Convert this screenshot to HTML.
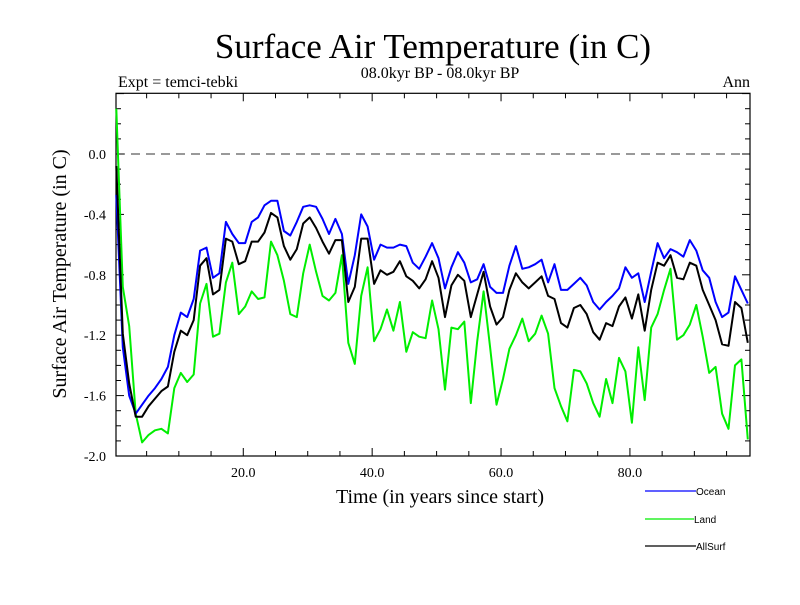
<!DOCTYPE html>
<html><head><meta charset="utf-8"><style>
body{margin:0;background:#fff}
svg text{font-family:"Liberation Serif",serif}
</style></head><body>
<svg id="chart" width="800" height="600" xmlns="http://www.w3.org/2000/svg">
<rect width="800" height="600" fill="#fff"/>
<text x="433" y="58" font-size="35" text-anchor="middle">Surface Air Temperature (in C)</text>
<text x="118" y="87" font-size="16">Expt = temci-tebki</text>
<text x="440" y="78" font-size="16" text-anchor="middle">08.0kyr BP - 08.0kyr BP</text>
<text x="750" y="87" font-size="16" text-anchor="end">Ann</text>
<text x="440" y="503" font-size="20" text-anchor="middle">Time (in years since start)</text>
<text transform="translate(66,274) rotate(-90)" font-size="20" text-anchor="middle">Surface Air Temperature (in C)</text>
<g id="axes"></g>
<g id="series"></g>
<g>
<line x1="645" y1="491" x2="696" y2="491" stroke="#0000ff" stroke-width="1.3"/>
<text x="696" y="495" font-size="10" style="font-family:'Liberation Sans',sans-serif">Ocean</text>
<line x1="645" y1="519" x2="694" y2="519" stroke="#00ee00" stroke-width="1.3"/>
<text x="694" y="523" font-size="10" style="font-family:'Liberation Sans',sans-serif">Land</text>
<line x1="645" y1="546" x2="696" y2="546" stroke="#000" stroke-width="1.3"/>
<text x="696" y="550" font-size="10" style="font-family:'Liberation Sans',sans-serif">AllSurf</text>
</g>
</svg>
<script>
const ocean=[-0.27,-1.28,-1.60,-1.72,-1.66,-1.60,-1.55,-1.49,-1.41,-1.20,-1.05,-1.08,-0.96,-0.64,-0.62,-0.82,-0.79,-0.45,-0.53,-0.59,-0.59,-0.45,-0.42,-0.34,-0.31,-0.31,-0.51,-0.54,-0.45,-0.35,-0.34,-0.35,-0.43,-0.53,-0.43,-0.53,-0.86,-0.67,-0.40,-0.48,-0.70,-0.60,-0.62,-0.62,-0.60,-0.61,-0.72,-0.76,-0.68,
-0.59,-0.69,-0.89,-0.75,-0.65,-0.72,-0.85,-0.83,-0.73,-0.88,-0.92,-0.92,-0.74,-0.61,-0.76,-0.75,-0.73,-0.70,-0.85,-0.73,-0.90,-0.90,-0.86,-0.82,-0.87,-0.98,-1.03,-0.98,-0.94,-0.89,-0.75,-0.82,-0.79,-0.98,-0.78,-0.59,-0.69,-0.63,-0.65,-0.68,-0.57,-0.64,-0.77,-0.82,-0.98,-1.08,-1.05,-0.81,-0.90,-0.99];
const allsurf=[-0.08,-1.19,-1.52,-1.74,-1.74,-1.67,-1.62,-1.57,-1.54,-1.31,-1.17,-1.20,-1.10,-0.74,-0.69,-0.93,-0.90,-0.56,-0.58,-0.73,-0.71,-0.58,-0.58,-0.52,-0.39,-0.42,-0.61,-0.70,-0.63,-0.46,-0.42,-0.49,-0.58,-0.66,-0.57,-0.57,-0.98,-0.88,-0.56,-0.56,-0.86,-0.77,-0.80,-0.78,-0.71,-0.81,-0.84,-0.89,-0.83,
-0.71,-0.82,-1.08,-0.87,-0.80,-0.84,-1.08,-0.93,-0.78,-1.01,-1.13,-1.08,-0.90,-0.79,-0.85,-0.89,-0.85,-0.81,-0.94,-0.96,-1.12,-1.15,-1.02,-1.00,-1.06,-1.18,-1.23,-1.12,-1.14,-1.01,-0.95,-1.09,-0.93,-1.17,-0.90,-0.72,-0.74,-0.67,-0.82,-0.83,-0.72,-0.74,-0.90,-1.00,-1.10,-1.26,-1.27,-0.98,-1.02,-1.25];
const land=[0.30,-0.88,-1.14,-1.72,-1.91,-1.86,-1.83,-1.82,-1.85,-1.55,-1.45,-1.51,-1.46,-0.99,-0.86,-1.21,-1.19,-0.85,-0.72,-1.06,-1.01,-0.91,-0.96,-0.95,-0.58,-0.67,-0.84,-1.06,-1.08,-0.79,-0.60,-0.78,-0.94,-0.97,-0.92,-0.67,-1.25,-1.39,-0.94,-0.75,-1.24,-1.16,-1.03,-1.17,-0.98,-1.31,-1.18,-1.21,-1.22,
-0.97,-1.16,-1.56,-1.15,-1.16,-1.11,-1.65,-1.24,-0.91,-1.28,-1.66,-1.49,-1.29,-1.20,-1.09,-1.24,-1.19,-1.07,-1.19,-1.55,-1.67,-1.77,-1.43,-1.44,-1.52,-1.65,-1.74,-1.49,-1.65,-1.35,-1.44,-1.78,-1.28,-1.63,-1.15,-1.06,-0.90,-0.76,-1.23,-1.20,-1.13,-1.00,-1.21,-1.45,-1.41,-1.72,-1.82,-1.40,-1.36,-1.89];
const xTicks=[20,40,60,80];
const xTickLabels=["20.0","40.0","60.0","80.0"];
const yTicks=[0,-0.4,-0.8,-1.2,-1.6,-2.0];
const yTickLabels=["0.0","-0.4","-0.8","-1.2","-1.6","-2.0"];

const L=116,R=750,T=93.3,B=456;
const X0=114.4,XS=6.444;
const sx=v=>X0+XS*v;
const sy=v=>154-(v)*151;
const NS="http://www.w3.org/2000/svg";
function mk(tag,attrs,parent){const e=document.createElementNS(NS,tag);for(const k in attrs)e.setAttribute(k,attrs[k]);parent.appendChild(e);return e;}
const ax=document.getElementById('axes');
let z=mk('line',{x1:L,x2:R,y1:sy(0),y2:sy(0),stroke:'#333','stroke-width':1,'stroke-dasharray':'9,6'},ax);


for(let v=5;v<=95;v+=5){
  const major=v%20===0;const len=major?8:5;const x=sx(v);
  mk('line',{x1:x,x2:x,y1:B,y2:B-len,stroke:'#000','stroke-width':1},ax);
  mk('line',{x1:x,x2:x,y1:T,y2:T+len,stroke:'#000','stroke-width':1},ax);
}
xTicks.forEach((v,i)=>{
  const t=mk('text',{x:sx(v),y:477,'font-size':14,'text-anchor':'middle'},ax);t.textContent=xTickLabels[i];
  
  
});
for(let k=-20;k<=4;k++){
  const v=k/10;const major=k%4===0;const len=major?8:5;const y=sy(v);
  mk('line',{x1:L,x2:L+len,y1:y,y2:y,stroke:'#000','stroke-width':1},ax);
  mk('line',{x1:R,x2:R-len,y1:y,y2:y,stroke:'#000','stroke-width':1},ax);
}
yTicks.forEach((v,i)=>{
  const t=mk('text',{x:106,y:sy(v)+5,'font-size':14,'text-anchor':'end'},ax);t.textContent=yTickLabels[i];
  
  
});
const fr=mk('rect',{x:L,y:T,width:R-L,height:B-T,fill:'none',stroke:'#000','stroke-width':1.2},ax);


const sg=document.getElementById('series');
function line(data,color,name){
  const d=data.map((v,i)=>(i?'L':'M')+sx(i+0.3).toFixed(1)+','+sy(v).toFixed(1)).join('');
  const p=mk('path',{d:d,fill:'none',stroke:color,'stroke-width':2,'stroke-linejoin':'round'},sg);
  
  
}
line(land,'#00ee00','land-line');
line(ocean,'#0000ff','ocean-line');
line(allsurf,'#000000','allsurf-line');
</script>
</body></html>
